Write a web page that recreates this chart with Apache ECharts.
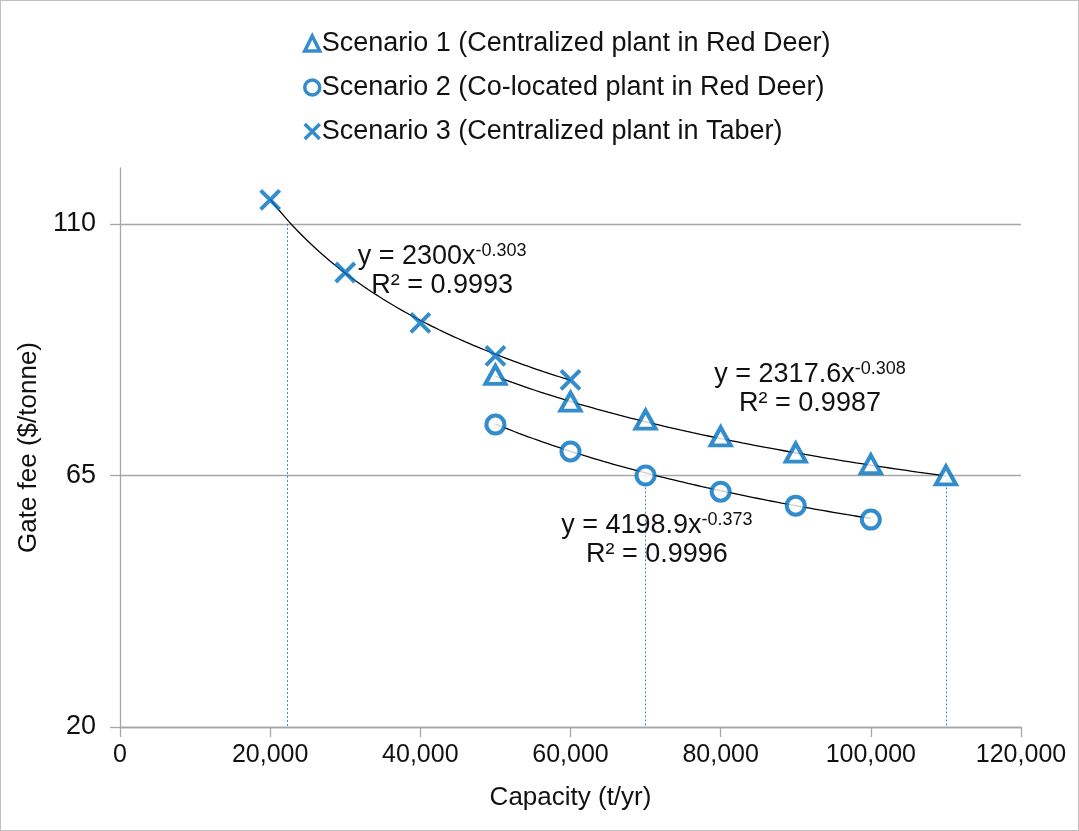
<!DOCTYPE html>
<html>
<head>
<meta charset="utf-8">
<script src="https://cdn.jsdelivr.net/npm/echarts@6/dist/echarts.min.js"></script>
<style>
  html, body { margin: 0; padding: 0; background: #fff; }
  #chart { position: absolute; left: 0; top: 0; width: 1079px; height: 831px; }
  #frame { position: absolute; left: 0; top: 0; width: 1079px; height: 831px; box-sizing: border-box; border: 1px solid #bfbfbf; pointer-events: none; }
</style>
</head>
<body>
<div id="chart"></div>
<div id="frame"></div>
<script>
// ---- data ----
const seriesNames = [
  'Scenario 1 (Centralized plant in Red Deer)',
  'Scenario 2 (Co-located plant in Red Deer)',
  'Scenario 3 (Centralized plant in Taber)'
];
const capacity1 = [50000, 60000, 70000, 80000, 90000, 100000, 110000];
const fee1 = [83.0, 78.2, 75.0, 72.0, 69.1, 67.0, 65.0];
const capacity2 = [50000, 60000, 70000, 80000, 90000, 100000];
const fee2 = [74.1, 69.3, 65.0, 62.1, 59.6, 57.1];
const capacity3 = [20000, 30000, 40000, 50000, 60000];
const fee3 = [114.3, 101.3, 92.3, 86.4, 82.1];

// power trendlines shown in the chart: y = a * x^b
const trendA = [2317.6, 4198.9, 2300];
const trendB = [-0.308, -0.373, -0.303];
const trendR2 = ['0.9987', '0.9996', '0.9993'];
const trendFrom = [50000, 50000, 20000];
const trendTo = [110000, 100000, 60000];
const eqAnchorX = [91900, 71500, 42900];
const eqAnchorY = [80.5, 53.4, 101.6];

// drop lines
const dropX = [22300, 70000, 110000];
const dropTop = [110, 65, 65];

const yTicks = [20, 65, 110];
const xMin = 0, xMax = 120000, xStep = 20000;
const yMin = 20, yMax = 120;

const BLUE = '#0070C0';
const FONT = '"Liberation Sans", Arial, sans-serif';
const TXT = '#111';

function trendPoints(i) {
  const pts = [];
  const n = 80;
  for (let k = 0; k <= n; k++) {
    const x = trendFrom[i] + (trendTo[i] - trendFrom[i]) * k / n;
    pts.push([x, trendA[i] * Math.pow(x, trendB[i])]);
  }
  return pts;
}

function eqLabel(i) {
  return '{t|y = ' + trendA[i] + 'x}{s|' + trendB[i] + '}\n{t|R² = ' + trendR2[i] + '}';
}

const zip = (xs, ys) => xs.map((x, i) => [x, ys[i]]);

const symbols = ['triangle', 'circle', 'path://M0,0L10,10M10,0L0,10'];
const symbolSizes = [[20, 18], 18, 19];
const datasets = [zip(capacity1, fee1), zip(capacity2, fee2), zip(capacity3, fee3)];

const series = [];
for (let i = 0; i < 3; i++) {
  series.push({
    type: 'line',
    name: 'trend' + i,
    data: trendPoints(i),
    showSymbol: false,
    silent: true,
    z: 2,
    lineStyle: { color: '#000', width: 1.3 },
    markPoint: {
      symbol: 'circle',
      symbolSize: 0,
      silent: true,
      data: [{ coord: [eqAnchorX[i], eqAnchorY[i]] }],
      label: {
        show: true,
        position: 'inside',
        formatter: eqLabel(i),
        align: 'center',
        rich: {
          t: { fontSize: 27, fontFamily: FONT, color: TXT, lineHeight: 29, align: 'center' },
          s: { fontSize: 18, fontFamily: FONT, color: TXT, lineHeight: 29, verticalAlign: 'top', padding: [0, 0, 12, 0] }
        }
      }
    }
  });
}
series.push({
  type: 'line',
  name: 'drops',
  data: [],
  silent: true,
  z: 1,
  markLine: {
    silent: true,
    symbol: 'none',
    label: { show: false },
    lineStyle: { color: '#3d8ad6', type: [2, 2], width: 1 },
    data: dropX.map((x, i) => [{ coord: [x, dropTop[i]] }, { coord: [x, yMin] }])
  }
});
for (let i = 0; i < 3; i++) {
  series.push({
    type: 'scatter',
    name: seriesNames[i],
    data: datasets[i],
    symbol: symbols[i],
    symbolSize: symbolSizes[i],
    z: 5,
    itemStyle: i === 2
      ? { color: BLUE, borderColor: BLUE, borderWidth: 4 }
      : { color: '#fff', borderColor: BLUE, borderWidth: 4 }
  });
}

const chart = echarts.init(document.getElementById('chart'), null, { renderer: 'canvas' });
chart.setOption({
  animation: false,
  backgroundColor: '#fff',
  textStyle: { fontFamily: FONT },
  legend: {
    data: seriesNames,
    orient: 'vertical',
    left: 298,
    top: 23,
    itemGap: 13,
    itemWidth: 15,
    itemHeight: 15,
    itemStyle: { borderWidth: 3.5 },
    textStyle: { fontSize: 27, fontFamily: FONT, color: TXT, lineHeight: 31, padding: [0, 0, 0, -3] }
  },
  grid: { left: 120, right: 58, top: 168, bottom: 104, containLabel: false },
  xAxis: {
    type: 'value',
    min: xMin, max: xMax, interval: xStep,
    name: 'Capacity (t/yr)',
    nameLocation: 'middle',
    nameGap: 58,
    nameTextStyle: { fontSize: 26, fontFamily: FONT, color: TXT },
    axisLine: { show: true, onZero: false, lineStyle: { color: '#a6a6a6', width: 1.3 } },
    axisTick: { show: true, inside: false, length: 10, lineStyle: { color: '#a6a6a6', width: 1.3 } },
    axisLabel: {
      margin: 16, fontSize: 25, fontFamily: FONT, color: TXT,
      formatter: v => v.toLocaleString('en-US')
    },
    splitLine: { show: false }
  },
  yAxis: {
    type: 'value',
    min: yMin, max: yMax,
    name: 'Gate fee ($/tonne)',
    nameLocation: 'middle',
    nameGap: 75,
    nameRotate: 90,
    nameTextStyle: { fontSize: 26, fontFamily: FONT, color: TXT },
    axisLine: { show: true, lineStyle: { color: '#a6a6a6', width: 1.3 } },
    axisTick: { show: true, inside: false, length: 10, customValues: yTicks, lineStyle: { color: '#a6a6a6', width: 1.3 } },
    axisLabel: { margin: 24, fontSize: 27, fontFamily: FONT, color: TXT, customValues: yTicks },
    splitLine: { show: true, lineStyle: { color: '#a6a6a6', width: 1.3 } }
  },
  series: series
});
</script>
</body>
</html>
